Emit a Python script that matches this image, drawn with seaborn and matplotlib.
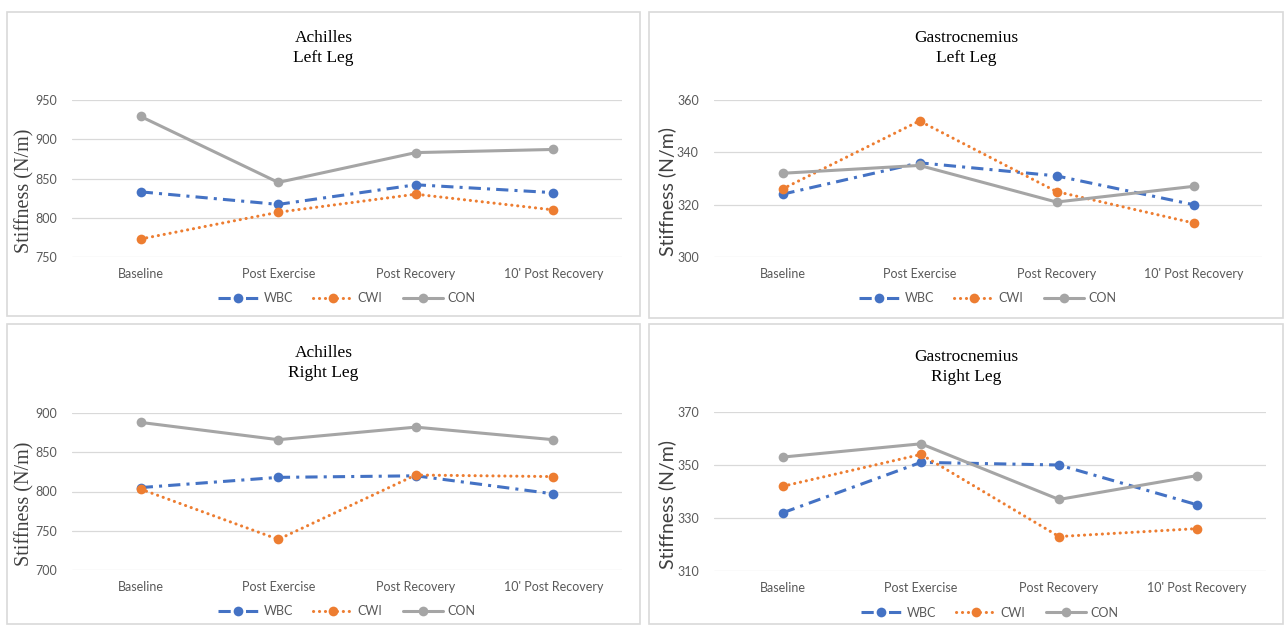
import numpy as np
import pandas as pd
import matplotlib
matplotlib.use("Agg")
import matplotlib.pyplot as plt
from matplotlib.colors import to_hex
from matplotlib.patches import Rectangle
import seaborn as sns

timepoints = ["Baseline", "Post Exercise", "Post Recovery", "10' Post Recovery"]
groups = ["WBC", "CWI", "CON"]

# Achilles, left leg
ach_left_wbc = [833, 817, 842, 832]
ach_left_cwi = [773, 807, 830, 810]
ach_left_con = [929, 845, 883, 887]

# Gastrocnemius, left leg
gas_left_wbc = [324, 336, 331, 320]
gas_left_cwi = [326, 352, 325, 313]
gas_left_con = [332, 335, 321, 327]

# Achilles, right leg
ach_right_wbc = [805, 818, 820, 797]
ach_right_cwi = [803, 739, 821, 819]
ach_right_con = [888, 866, 882, 866]

# Gastrocnemius, right leg
gas_right_wbc = [332, 351, 350, 335]
gas_right_cwi = [342, 354, 323, 326]
gas_right_con = [353, 358, 337, 346]

colors = {"WBC": "#4472C4", "CWI": "#ED7D31", "CON": "#A5A5A5"}
dashes = {"WBC": (4, 2, 1, 2), "CWI": (0.05, 1.9), "CON": ""}
markers = {"WBC": "o", "CWI": "o", "CON": "o"}

sns.set_style("white")

W, H = 1284, 625
fig = plt.figure(figsize=(W / 100, H / 100), dpi=100)


def px_axes(x0, y0, x1, y1):
    return fig.add_axes([x0 / W, 1 - y1 / H, (x1 - x0) / W, (y1 - y0) / H])


def long_df(wbc, cwi, con):
    rows = []
    for g, vals in zip(groups, [wbc, cwi, con]):
        for t, v in zip(timepoints, vals):
            rows.append({"time": t, "value": v, "group": g})
    return pd.DataFrame(rows)


def round_dots(lines):
    # Excel's round-dot line: round caps on the orange series only
    for line in lines:
        if to_hex(line.get_color()) == colors["CWI"].lower():
            line.set_dash_capstyle("round")


panels = [
    # frame, axes box, title, data, ylim, ticks, label font, label size, title centre
    ((7, 12, 640, 316), (72, 100, 622, 257), "Achilles\nLeft Leg",
     (ach_left_wbc, ach_left_cwi, ach_left_con), (750, 950), np.arange(750, 951, 50),
     "Liberation Serif", 14.5, 48),
    ((649, 12, 1283, 318), (714, 100, 1262, 257), "Gastrocnemius\nLeft Leg",
     (gas_left_wbc, gas_left_cwi, gas_left_con), (300, 360), np.arange(300, 361, 20),
     "Lato", 14, 48),
    ((7, 324, 640, 624), (72, 413, 622, 570), "Achilles\nRight Leg",
     (ach_right_wbc, ach_right_cwi, ach_right_con), (700, 900), np.arange(700, 901, 50),
     "Liberation Serif", 14.5, 363),
    ((649, 324, 1283, 624), (714, 412, 1266, 571), "Gastrocnemius\nRight Leg",
     (gas_right_wbc, gas_right_cwi, gas_right_con), (310, 370), np.arange(310, 371, 20),
     "Lato", 14, 367),
]

for frame, box, title, vals, ylim, ticks, label_font, label_size, title_y in panels:
    fx0, fy0, fx1, fy1 = frame
    fig.patches.append(Rectangle((fx0 / W, 1 - fy1 / H), (fx1 - fx0) / W, (fy1 - fy0) / H,
                                 transform=fig.transFigure, fill=False,
                                 edgecolor="#d9d9d9", linewidth=1.2))
    ax = px_axes(*box)
    df = long_df(*vals)
    sns.lineplot(data=df, x="time", y="value", hue="group", style="group",
                 palette=colors, dashes=dashes, markers=markers,
                 markersize=7, markeredgewidth=0, linewidth=2.2, sort=False, ax=ax)
    round_dots(ax.lines)
    ax.set_xlim(-0.5, 3.5)
    ax.set_ylim(*ylim)
    ax.set_yticks(ticks)
    ax.grid(axis="y", color="#d9d9d9", linewidth=0.9)
    ax.grid(axis="x", visible=False)
    sns.despine(ax=ax, left=True, bottom=True)
    ax.tick_params(axis="both", length=0, labelsize=9, colors="#595959")
    for lab in ax.get_xticklabels() + ax.get_yticklabels():
        lab.set_family("Lato")
    ax.tick_params(axis="x", pad=8)
    ax.tick_params(axis="y", pad=11)
    ax.set_xlabel("")
    ax.set_ylabel("Stiffness (N/m)", fontsize=label_size, family=label_font, color="#404040")
    ax.yaxis.set_label_coords(-38 / (box[2] - box[0]), 0.42)

    fig.text((fx0 + fx1) / 2 / W, 1 - title_y / H, title, ha="center", va="center",
             fontsize=12.5, family="Liberation Serif", color="black", linespacing=1.3)

    handles, labels = ax.get_legend_handles_labels()
    leg = ax.legend(handles, labels, loc="center", bbox_to_anchor=(0.5, -0.262), ncol=3,
                    frameon=False, prop={"family": "Lato", "size": 9}, handlelength=3.2,
                    columnspacing=1.6, handletextpad=0.4, labelcolor="#595959")
    round_dots(leg.get_lines())

fig.savefig("out.png", dpi=100)
